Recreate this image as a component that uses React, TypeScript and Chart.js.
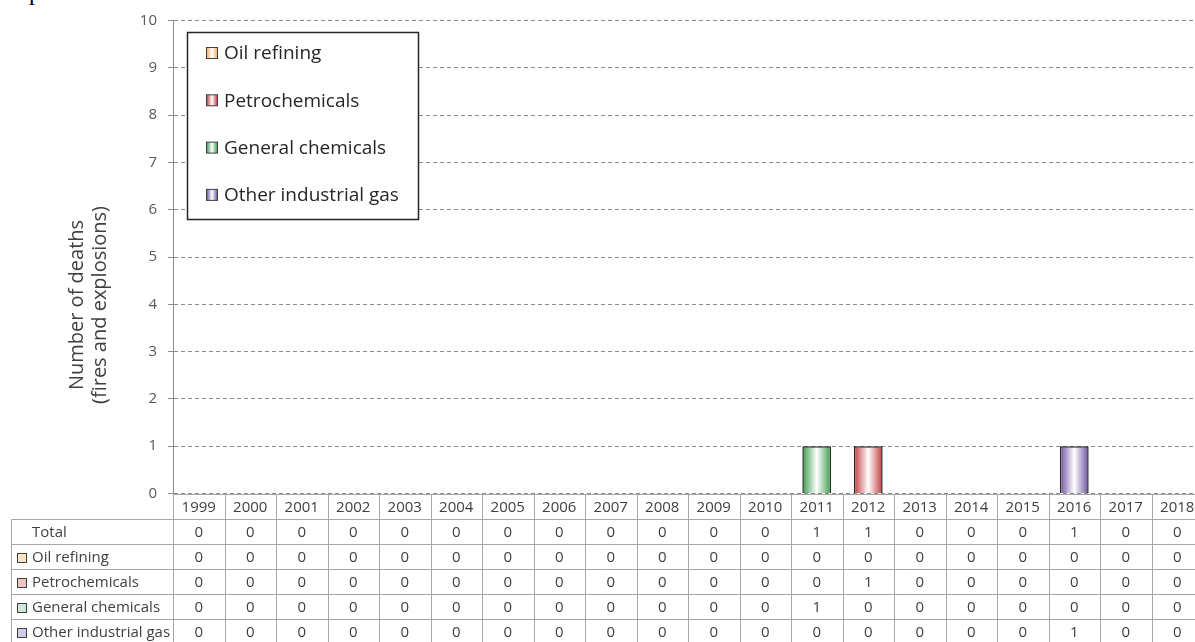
import React, { useEffect, useRef } from 'react';
import { Chart, registerables } from 'chart.js';

Chart.register(...registerables);

const years = ['1999', '2000', '2001', '2002', '2003', '2004', '2005', '2006', '2007', '2008', '2009', '2010', '2011', '2012', '2013', '2014', '2015', '2016', '2017', '2018'];
const totals = [0, 0, 0, 0, 0, 0, 0, 0, 0, 0, 0, 0, 1, 1, 0, 0, 0, 1, 0, 0];
const oilRefining = [0, 0, 0, 0, 0, 0, 0, 0, 0, 0, 0, 0, 0, 0, 0, 0, 0, 0, 0, 0];
const petrochemicals = [0, 0, 0, 0, 0, 0, 0, 0, 0, 0, 0, 0, 0, 1, 0, 0, 0, 0, 0, 0];
const generalChemicals = [0, 0, 0, 0, 0, 0, 0, 0, 0, 0, 0, 0, 1, 0, 0, 0, 0, 0, 0, 0];
const otherIndustrialGas = [0, 0, 0, 0, 0, 0, 0, 0, 0, 0, 0, 0, 0, 0, 0, 0, 0, 1, 0, 0];
const seriesNames = ['Oil refining', 'Petrochemicals', 'General chemicals', 'Other industrial gas'];
const seriesData = [oilRefining, petrochemicals, generalChemicals, otherIndustrialGas];
const seriesColors = ['#f0b060', '#c0393b', '#3a9a4a', '#6a4fa0'];
const seriesTints = ['#fbe3c4', '#eec4c2', '#cfe8d3', '#d3cbe6'];
const totalLabel = 'Total';
const yTitleLines = ['Number of deaths', '(fires and explosions)'];
const yMin = 0;
const yMax = 10;

const FONT = '"Open Sans", Lato, sans-serif';
const W = 1203;
const H = 646;
const BAR_PCT = 0.56;

function fitSize(text: string, target: number, fallback: number) {
  try {
    const c = document.createElement('canvas').getContext('2d');
    if (!c) return fallback;
    c.font = `100px ${FONT}`;
    const w = c.measureText(text).width;
    if (!w) return fallback;
    return Math.round((100 * target) / w * 2) / 2;
  } catch (e) {
    return fallback;
  }
}

function gradientFor(ctx: CanvasRenderingContext2D, x0: number, x1: number, color: string) {
  const g = ctx.createLinearGradient(x0, 0, x1, 0);
  g.addColorStop(0, color);
  g.addColorStop(0.5, '#ffffff');
  g.addColorStop(1, color);
  return g;
}

function barGradient(color: string) {
  return (c: any) => {
    const chart = c.chart;
    const xs = chart.scales && chart.scales.x;
    if (!chart.chartArea || !xs) return color;
    const cx = xs.getPixelForValue(c.dataIndex);
    const colW = (xs.right - xs.left) / years.length;
    const w = colW * BAR_PCT;
    return gradientFor(chart.ctx, cx - w / 2, cx + w / 2, color);
  };
}

const sizes = { legend: 17, table: 14, title: 17, tick: 14 };

const overlayPlugin = {
  id: 'tableLegendTitle',
  afterDraw(chart: any) {
    const ctx: CanvasRenderingContext2D = chart.ctx;
    const xs = chart.scales.x;
    const area = chart.chartArea;
    const n = years.length;
    const colW = (xs.right - xs.left) / n;
    const top = Math.round(area.bottom) + 0.5;
    const rowH = 25;
    const tableLeft = 11.5;
    const right = xs.right;
    const rows = [
      { label: totalLabel, values: totals, swatch: -1 },
      ...seriesNames.map((name, i) => ({ label: name, values: seriesData[i], swatch: i })),
    ];

    ctx.save();
    ctx.strokeStyle = '#a6a6a6';
    ctx.lineWidth = 1;
    ctx.setLineDash([]);
    ctx.beginPath();
    ctx.moveTo(area.left, top);
    ctx.lineTo(right, top);
    for (let k = 1; k <= rows.length + 1; k++) {
      const y = top + k * rowH;
      ctx.moveTo(tableLeft, y);
      ctx.lineTo(right, y);
    }
    for (let i = 0; i <= n; i++) {
      const x = Math.round(area.left + i * colW) + 0.5;
      ctx.moveTo(x, i === 0 ? area.bottom : top);
      ctx.lineTo(x, top + (rows.length + 1) * rowH);
    }
    ctx.moveTo(tableLeft, top + rowH);
    ctx.lineTo(tableLeft, top + (rows.length + 1) * rowH);
    ctx.stroke();

    ctx.fillStyle = '#404040';
    ctx.font = `${sizes.table}px ${FONT}`;
    ctx.textBaseline = 'middle';
    ctx.textAlign = 'center';
    years.forEach((yr, i) => {
      ctx.fillText(yr, area.left + (i + 0.5) * colW, top + rowH / 2 + 1);
    });
    rows.forEach((row, r) => {
      const cy = top + (r + 1) * rowH + rowH / 2 + 1;
      ctx.textAlign = 'center';
      ctx.fillStyle = '#404040';
      row.values.forEach((v, i) => {
        ctx.fillText(String(v), area.left + (i + 0.5) * colW, cy);
      });
      ctx.textAlign = 'left';
      ctx.fillText(row.label, 32, cy);
      if (row.swatch >= 0) {
        ctx.fillStyle = seriesTints[row.swatch];
        ctx.fillRect(17.5, cy - 4.5, 9, 9);
        ctx.strokeStyle = '#404040';
        ctx.strokeRect(17.5, cy - 4.5, 9, 9);
      }
    });

    ctx.fillStyle = '#404040';
    ctx.font = `${sizes.title}px ${FONT}`;
    ctx.textAlign = 'center';
    ctx.textBaseline = 'middle';
    const titleX = [77, 100];
    yTitleLines.forEach((line, i) => {
      ctx.save();
      ctx.translate(titleX[i], 305);
      ctx.rotate(-Math.PI / 2);
      ctx.fillText(line, 0, 0);
      ctx.restore();
    });

    const lx0 = 187.5, ly0 = 32.5, lx1 = 418.5, ly1 = 219.5;
    ctx.fillStyle = '#ffffff';
    ctx.fillRect(lx0, ly0, lx1 - lx0, ly1 - ly0);
    ctx.strokeStyle = '#262626';
    ctx.lineWidth = 1.5;
    ctx.strokeRect(lx0, ly0, lx1 - lx0, ly1 - ly0);
    ctx.font = `${sizes.legend}px ${FONT}`;
    ctx.textAlign = 'left';
    ctx.textBaseline = 'middle';
    seriesNames.forEach((name, i) => {
      const cy = 53 + i * 47.3;
      const sx = 206.5, sw = 11;
      ctx.fillStyle = gradientFor(ctx, sx, sx + sw, seriesColors[i]);
      ctx.fillRect(sx, cy - sw / 2, sw, sw);
      ctx.strokeStyle = '#404040';
      ctx.lineWidth = 1;
      ctx.strokeRect(sx, cy - sw / 2, sw, sw);
      ctx.fillStyle = '#262626';
      ctx.fillText(name, 224, cy + 1);
    });
    ctx.restore();
  },
};

export default function App() {
  const ref = useRef<HTMLCanvasElement | null>(null);

  useEffect(() => {
    const canvas = ref.current;
    if (!canvas) return;
    let chart: Chart | null = null;
    let cancelled = false;
    const build = () => {
      if (cancelled) return;
      sizes.legend = fitSize('Other industrial gas', 177, 17);
      sizes.table = fitSize('Other industrial gas', 138, 14);
      sizes.title = fitSize('Number of deaths', 172, 17);
      sizes.tick = fitSize('10', 17, 14);
      chart = new Chart(canvas, {
        type: 'bar',
        data: {
          labels: years,
          datasets: seriesNames.map((name, i) => ({
            label: name,
            data: seriesData[i],
            backgroundColor: barGradient(seriesColors[i]) as any,
            borderColor: '#262626',
            borderWidth: ((c: any) => (c.raw ? 1.5 : 0)) as any,
            barPercentage: BAR_PCT,
            categoryPercentage: 1,
          })),
        },
        options: {
          responsive: false,
          animation: false,
          devicePixelRatio: 1,
          layout: { padding: { top: 20.5, bottom: H - 493.5, left: 0, right: 0 } },
          plugins: {
            legend: { display: false },
            tooltip: { enabled: false },
            title: { display: false },
          },
          scales: {
            x: { stacked: true, display: false, offset: true },
            y: {
              stacked: true,
              min: yMin,
              max: yMax,
              ticks: { stepSize: 1, color: '#595959', font: { family: FONT, size: sizes.tick }, padding: 11 },
              grid: { color: '#8c8c8c', tickLength: 5, drawTicks: true, tickColor: '#8c8c8c' },
              border: { display: true, color: '#8c8c8c', dash: [4, 3] },
              afterFit: (s: any) => {
                s.width = 173;
              },
            },
          },
        },
        plugins: [overlayPlugin],
      });
    };
    const fontsReady = (document as any).fonts ? Promise.all([
      (document as any).fonts.load(`16px "Open Sans"`).catch(() => null),
    ]) : Promise.resolve();
    let built = false;
    fontsReady.then(() => { if (!built) { built = true; build(); } });
    const t = setTimeout(() => { if (!built) { built = true; build(); } }, 300);
    return () => {
      cancelled = true;
      clearTimeout(t);
      if (chart) chart.destroy();
    };
  }, []);

  return (
    <div style={{ position: 'fixed', left: 0, top: 0, width: 1195, height: 642, overflow: 'hidden', background: '#ffffff' }}>
      <span style={{ position: 'absolute', left: 29, top: -20, font: '24px "Liberation Serif", serif', lineHeight: '24px', color: '#000' }}>p</span>
      <canvas ref={ref} width={W} height={H} style={{ position: 'absolute', left: 0, top: 0, display: 'block' }} />
    </div>
  );
}
